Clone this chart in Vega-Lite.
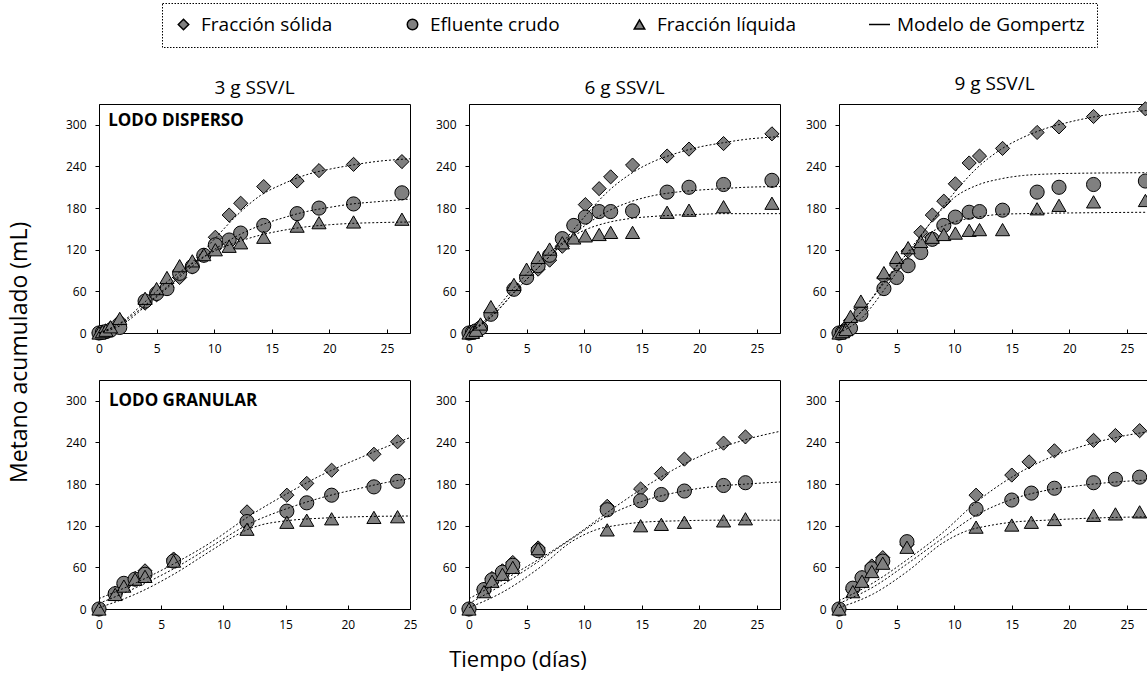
{
"$schema": "https://vega.github.io/schema/vega-lite/v6.json",
"padding": {"left": 8, "top": 2, "right": 0, "bottom": 0},
"title": {"text": "Tiempo (días)", "orient": "bottom", "anchor": "middle", "fontSize": 22, "offset": 19, "dx": -64},
"resolve": {"scale": {"shape": "shared"}, "legend": {"shape": "shared"}},
"datasets": {
"obs": [
{"panel":"D3","serie":"Fracción sólida","dia":0,"metano":0},{"panel":"D3","serie":"Fracción sólida","dia":0.3,"metano":1},{"panel":"D3","serie":"Fracción sólida","dia":0.6,"metano":3},{"panel":"D3","serie":"Fracción sólida","dia":1,"metano":7},{"panel":"D3","serie":"Fracción sólida","dia":1.8,"metano":17},{"panel":"D3","serie":"Fracción sólida","dia":4,"metano":43},{"panel":"D3","serie":"Fracción sólida","dia":5,"metano":55},{"panel":"D3","serie":"Fracción sólida","dia":5.9,"metano":66},{"panel":"D3","serie":"Fracción sólida","dia":7,"metano":80},{"panel":"D3","serie":"Fracción sólida","dia":8.1,"metano":95},{"panel":"D3","serie":"Fracción sólida","dia":9.1,"metano":112},{"panel":"D3","serie":"Fracción sólida","dia":10.1,"metano":138},{"panel":"D3","serie":"Fracción sólida","dia":11.3,"metano":170},{"panel":"D3","serie":"Fracción sólida","dia":12.3,"metano":187},{"panel":"D3","serie":"Fracción sólida","dia":14.3,"metano":211},{"panel":"D3","serie":"Fracción sólida","dia":17.2,"metano":219},{"panel":"D3","serie":"Fracción sólida","dia":19.1,"metano":234},{"panel":"D3","serie":"Fracción sólida","dia":22.1,"metano":243},{"panel":"D3","serie":"Fracción sólida","dia":26.3,"metano":247},
{"panel":"D3","serie":"Efluente crudo","dia":0,"metano":0},{"panel":"D3","serie":"Efluente crudo","dia":0.3,"metano":1},{"panel":"D3","serie":"Efluente crudo","dia":0.6,"metano":2},{"panel":"D3","serie":"Efluente crudo","dia":1,"metano":4},{"panel":"D3","serie":"Efluente crudo","dia":1.8,"metano":8},{"panel":"D3","serie":"Efluente crudo","dia":4,"metano":46},{"panel":"D3","serie":"Efluente crudo","dia":5,"metano":57},{"panel":"D3","serie":"Efluente crudo","dia":5.9,"metano":64},{"panel":"D3","serie":"Efluente crudo","dia":7,"metano":86},{"panel":"D3","serie":"Efluente crudo","dia":8.1,"metano":96},{"panel":"D3","serie":"Efluente crudo","dia":9.1,"metano":112},{"panel":"D3","serie":"Efluente crudo","dia":10.1,"metano":127},{"panel":"D3","serie":"Efluente crudo","dia":11.3,"metano":134},{"panel":"D3","serie":"Efluente crudo","dia":12.3,"metano":144},{"panel":"D3","serie":"Efluente crudo","dia":14.3,"metano":155},{"panel":"D3","serie":"Efluente crudo","dia":17.2,"metano":172},{"panel":"D3","serie":"Efluente crudo","dia":19.1,"metano":180},{"panel":"D3","serie":"Efluente crudo","dia":22.1,"metano":186},{"panel":"D3","serie":"Efluente crudo","dia":26.3,"metano":202},
{"panel":"D3","serie":"Fracción líquida","dia":0,"metano":0},{"panel":"D3","serie":"Fracción líquida","dia":0.3,"metano":2},{"panel":"D3","serie":"Fracción líquida","dia":0.6,"metano":4},{"panel":"D3","serie":"Fracción líquida","dia":1,"metano":9},{"panel":"D3","serie":"Fracción líquida","dia":1.8,"metano":21},{"panel":"D3","serie":"Fracción líquida","dia":4,"metano":50},{"panel":"D3","serie":"Fracción líquida","dia":5,"metano":64},{"panel":"D3","serie":"Fracción líquida","dia":5.9,"metano":80},{"panel":"D3","serie":"Fracción líquida","dia":7,"metano":97},{"panel":"D3","serie":"Fracción líquida","dia":8.1,"metano":104},{"panel":"D3","serie":"Fracción líquida","dia":9.1,"metano":113},{"panel":"D3","serie":"Fracción líquida","dia":10.1,"metano":120},{"panel":"D3","serie":"Fracción líquida","dia":11.3,"metano":125},{"panel":"D3","serie":"Fracción líquida","dia":12.3,"metano":130},{"panel":"D3","serie":"Fracción líquida","dia":14.3,"metano":138},{"panel":"D3","serie":"Fracción líquida","dia":17.2,"metano":154},{"panel":"D3","serie":"Fracción líquida","dia":19.1,"metano":159},{"panel":"D3","serie":"Fracción líquida","dia":22.1,"metano":160},{"panel":"D3","serie":"Fracción líquida","dia":26.3,"metano":164},
{"panel":"D6","serie":"Fracción sólida","dia":0,"metano":0},{"panel":"D6","serie":"Fracción sólida","dia":0.3,"metano":2},{"panel":"D6","serie":"Fracción sólida","dia":0.6,"metano":4},{"panel":"D6","serie":"Fracción sólida","dia":1,"metano":10},{"panel":"D6","serie":"Fracción sólida","dia":1.9,"metano":30},{"panel":"D6","serie":"Fracción sólida","dia":3.9,"metano":65},{"panel":"D6","serie":"Fracción sólida","dia":5,"metano":80},{"panel":"D6","serie":"Fracción sólida","dia":6,"metano":92},{"panel":"D6","serie":"Fracción sólida","dia":7,"metano":105},{"panel":"D6","serie":"Fracción sólida","dia":8.1,"metano":125},{"panel":"D6","serie":"Fracción sólida","dia":9.1,"metano":155},{"panel":"D6","serie":"Fracción sólida","dia":10.1,"metano":185},{"panel":"D6","serie":"Fracción sólida","dia":11.3,"metano":208},{"panel":"D6","serie":"Fracción sólida","dia":12.3,"metano":225},{"panel":"D6","serie":"Fracción sólida","dia":14.2,"metano":242},{"panel":"D6","serie":"Fracción sólida","dia":17.2,"metano":255},{"panel":"D6","serie":"Fracción sólida","dia":19.1,"metano":265},{"panel":"D6","serie":"Fracción sólida","dia":22.1,"metano":273},{"panel":"D6","serie":"Fracción sólida","dia":26.3,"metano":287},
{"panel":"D6","serie":"Efluente crudo","dia":0,"metano":0},{"panel":"D6","serie":"Efluente crudo","dia":0.3,"metano":1},{"panel":"D6","serie":"Efluente crudo","dia":0.6,"metano":3},{"panel":"D6","serie":"Efluente crudo","dia":1,"metano":7},{"panel":"D6","serie":"Efluente crudo","dia":1.9,"metano":27},{"panel":"D6","serie":"Efluente crudo","dia":3.9,"metano":63},{"panel":"D6","serie":"Efluente crudo","dia":5,"metano":80},{"panel":"D6","serie":"Efluente crudo","dia":6,"metano":97},{"panel":"D6","serie":"Efluente crudo","dia":7,"metano":112},{"panel":"D6","serie":"Efluente crudo","dia":8.1,"metano":136},{"panel":"D6","serie":"Efluente crudo","dia":9.1,"metano":155},{"panel":"D6","serie":"Efluente crudo","dia":10.1,"metano":167},{"panel":"D6","serie":"Efluente crudo","dia":11.3,"metano":175},{"panel":"D6","serie":"Efluente crudo","dia":12.3,"metano":175},{"panel":"D6","serie":"Efluente crudo","dia":14.2,"metano":176},{"panel":"D6","serie":"Efluente crudo","dia":17.2,"metano":203},{"panel":"D6","serie":"Efluente crudo","dia":19.1,"metano":210},{"panel":"D6","serie":"Efluente crudo","dia":22.1,"metano":214},{"panel":"D6","serie":"Efluente crudo","dia":26.3,"metano":220},
{"panel":"D6","serie":"Fracción líquida","dia":0,"metano":0},{"panel":"D6","serie":"Fracción líquida","dia":0.3,"metano":1},{"panel":"D6","serie":"Fracción líquida","dia":0.6,"metano":4},{"panel":"D6","serie":"Fracción líquida","dia":1,"metano":13},{"panel":"D6","serie":"Fracción líquida","dia":1.9,"metano":38},{"panel":"D6","serie":"Fracción líquida","dia":3.9,"metano":70},{"panel":"D6","serie":"Fracción líquida","dia":5,"metano":92},{"panel":"D6","serie":"Fracción líquida","dia":6,"metano":109},{"panel":"D6","serie":"Fracción líquida","dia":7,"metano":121},{"panel":"D6","serie":"Fracción líquida","dia":8.1,"metano":130},{"panel":"D6","serie":"Fracción líquida","dia":9.1,"metano":137},{"panel":"D6","serie":"Fracción líquida","dia":10.1,"metano":140},{"panel":"D6","serie":"Fracción líquida","dia":11.3,"metano":142},{"panel":"D6","serie":"Fracción líquida","dia":12.3,"metano":145},{"panel":"D6","serie":"Fracción líquida","dia":14.2,"metano":145},{"panel":"D6","serie":"Fracción líquida","dia":17.2,"metano":174},{"panel":"D6","serie":"Fracción líquida","dia":19.1,"metano":177},{"panel":"D6","serie":"Fracción líquida","dia":22.1,"metano":182},{"panel":"D6","serie":"Fracción líquida","dia":26.3,"metano":187},
{"panel":"D9","serie":"Fracción sólida","dia":0,"metano":0},{"panel":"D9","serie":"Fracción sólida","dia":0.3,"metano":3},{"panel":"D9","serie":"Fracción sólida","dia":0.6,"metano":8},{"panel":"D9","serie":"Fracción sólida","dia":1,"metano":18},{"panel":"D9","serie":"Fracción sólida","dia":1.9,"metano":35},{"panel":"D9","serie":"Fracción sólida","dia":3.9,"metano":80},{"panel":"D9","serie":"Fracción sólida","dia":5,"metano":98},{"panel":"D9","serie":"Fracción sólida","dia":6,"metano":118},{"panel":"D9","serie":"Fracción sólida","dia":7.1,"metano":145},{"panel":"D9","serie":"Fracción sólida","dia":8.1,"metano":170},{"panel":"D9","serie":"Fracción sólida","dia":9.1,"metano":190},{"panel":"D9","serie":"Fracción sólida","dia":10.1,"metano":215},{"panel":"D9","serie":"Fracción sólida","dia":11.3,"metano":245},{"panel":"D9","serie":"Fracción sólida","dia":12.2,"metano":255},{"panel":"D9","serie":"Fracción sólida","dia":14.2,"metano":266},{"panel":"D9","serie":"Fracción sólida","dia":17.2,"metano":289},{"panel":"D9","serie":"Fracción sólida","dia":19.1,"metano":297},{"panel":"D9","serie":"Fracción sólida","dia":22.1,"metano":312},{"panel":"D9","serie":"Fracción sólida","dia":26.6,"metano":323},
{"panel":"D9","serie":"Efluente crudo","dia":0,"metano":0},{"panel":"D9","serie":"Efluente crudo","dia":0.3,"metano":1},{"panel":"D9","serie":"Efluente crudo","dia":0.6,"metano":3},{"panel":"D9","serie":"Efluente crudo","dia":1,"metano":7},{"panel":"D9","serie":"Efluente crudo","dia":1.9,"metano":27},{"panel":"D9","serie":"Efluente crudo","dia":3.9,"metano":64},{"panel":"D9","serie":"Efluente crudo","dia":5,"metano":80},{"panel":"D9","serie":"Efluente crudo","dia":6,"metano":97},{"panel":"D9","serie":"Efluente crudo","dia":7.1,"metano":116},{"panel":"D9","serie":"Efluente crudo","dia":8.1,"metano":135},{"panel":"D9","serie":"Efluente crudo","dia":9.1,"metano":155},{"panel":"D9","serie":"Efluente crudo","dia":10.1,"metano":167},{"panel":"D9","serie":"Efluente crudo","dia":11.3,"metano":174},{"panel":"D9","serie":"Efluente crudo","dia":12.2,"metano":175},{"panel":"D9","serie":"Efluente crudo","dia":14.2,"metano":177},{"panel":"D9","serie":"Efluente crudo","dia":17.2,"metano":203},{"panel":"D9","serie":"Efluente crudo","dia":19.1,"metano":210},{"panel":"D9","serie":"Efluente crudo","dia":22.1,"metano":214},{"panel":"D9","serie":"Efluente crudo","dia":26.6,"metano":219},
{"panel":"D9","serie":"Fracción líquida","dia":0,"metano":0},{"panel":"D9","serie":"Fracción líquida","dia":0.3,"metano":2},{"panel":"D9","serie":"Fracción líquida","dia":0.6,"metano":5},{"panel":"D9","serie":"Fracción líquida","dia":1,"metano":24},{"panel":"D9","serie":"Fracción líquida","dia":1.9,"metano":46},{"panel":"D9","serie":"Fracción líquida","dia":3.9,"metano":87},{"panel":"D9","serie":"Fracción líquida","dia":5,"metano":109},{"panel":"D9","serie":"Fracción líquida","dia":6,"metano":123},{"panel":"D9","serie":"Fracción líquida","dia":7.1,"metano":132},{"panel":"D9","serie":"Fracción líquida","dia":8.1,"metano":138},{"panel":"D9","serie":"Fracción líquida","dia":9.1,"metano":142},{"panel":"D9","serie":"Fracción líquida","dia":10.1,"metano":144},{"panel":"D9","serie":"Fracción líquida","dia":11.3,"metano":148},{"panel":"D9","serie":"Fracción líquida","dia":12.2,"metano":149},{"panel":"D9","serie":"Fracción líquida","dia":14.2,"metano":149},{"panel":"D9","serie":"Fracción líquida","dia":17.2,"metano":179},{"panel":"D9","serie":"Fracción líquida","dia":19.1,"metano":184},{"panel":"D9","serie":"Fracción líquida","dia":22.1,"metano":189},{"panel":"D9","serie":"Fracción líquida","dia":26.6,"metano":191},
{"panel":"G3","serie":"Fracción sólida","dia":0,"metano":0},{"panel":"G3","serie":"Fracción sólida","dia":1.3,"metano":23},{"panel":"G3","serie":"Fracción sólida","dia":2,"metano":35},{"panel":"G3","serie":"Fracción sólida","dia":2.9,"metano":44},{"panel":"G3","serie":"Fracción sólida","dia":3.7,"metano":55},{"panel":"G3","serie":"Fracción sólida","dia":6,"metano":72},{"panel":"G3","serie":"Fracción sólida","dia":11.9,"metano":140},{"panel":"G3","serie":"Fracción sólida","dia":15.1,"metano":164},{"panel":"G3","serie":"Fracción sólida","dia":16.7,"metano":181},{"panel":"G3","serie":"Fracción sólida","dia":18.7,"metano":200},{"panel":"G3","serie":"Fracción sólida","dia":22.1,"metano":223},{"panel":"G3","serie":"Fracción sólida","dia":24,"metano":241},
{"panel":"G3","serie":"Efluente crudo","dia":0,"metano":0},{"panel":"G3","serie":"Efluente crudo","dia":1.3,"metano":22},{"panel":"G3","serie":"Efluente crudo","dia":2,"metano":37},{"panel":"G3","serie":"Efluente crudo","dia":2.9,"metano":43},{"panel":"G3","serie":"Efluente crudo","dia":3.7,"metano":50},{"panel":"G3","serie":"Efluente crudo","dia":6,"metano":69},{"panel":"G3","serie":"Efluente crudo","dia":11.9,"metano":126},{"panel":"G3","serie":"Efluente crudo","dia":15.1,"metano":141},{"panel":"G3","serie":"Efluente crudo","dia":16.7,"metano":153},{"panel":"G3","serie":"Efluente crudo","dia":18.7,"metano":164},{"panel":"G3","serie":"Efluente crudo","dia":22.1,"metano":176},{"panel":"G3","serie":"Efluente crudo","dia":24,"metano":184},
{"panel":"G3","serie":"Fracción líquida","dia":0,"metano":0},{"panel":"G3","serie":"Fracción líquida","dia":1.3,"metano":21},{"panel":"G3","serie":"Fracción líquida","dia":2,"metano":33},{"panel":"G3","serie":"Fracción líquida","dia":2.9,"metano":43},{"panel":"G3","serie":"Fracción líquida","dia":3.7,"metano":47},{"panel":"G3","serie":"Fracción líquida","dia":6,"metano":69},{"panel":"G3","serie":"Fracción líquida","dia":11.9,"metano":115},{"panel":"G3","serie":"Fracción líquida","dia":15.1,"metano":125},{"panel":"G3","serie":"Fracción líquida","dia":16.7,"metano":128},{"panel":"G3","serie":"Fracción líquida","dia":18.7,"metano":130},{"panel":"G3","serie":"Fracción líquida","dia":22.1,"metano":132},{"panel":"G3","serie":"Fracción líquida","dia":24,"metano":133},
{"panel":"G6","serie":"Fracción sólida","dia":0,"metano":0},{"panel":"G6","serie":"Fracción sólida","dia":1.3,"metano":28},{"panel":"G6","serie":"Fracción sólida","dia":2,"metano":44},{"panel":"G6","serie":"Fracción sólida","dia":2.9,"metano":55},{"panel":"G6","serie":"Fracción sólida","dia":3.8,"metano":67},{"panel":"G6","serie":"Fracción sólida","dia":6,"metano":88},{"panel":"G6","serie":"Fracción sólida","dia":12,"metano":148},{"panel":"G6","serie":"Fracción sólida","dia":14.9,"metano":173},{"panel":"G6","serie":"Fracción sólida","dia":16.7,"metano":195},{"panel":"G6","serie":"Fracción sólida","dia":18.7,"metano":216},{"panel":"G6","serie":"Fracción sólida","dia":22.1,"metano":239},{"panel":"G6","serie":"Fracción sólida","dia":24,"metano":248},
{"panel":"G6","serie":"Efluente crudo","dia":0,"metano":0},{"panel":"G6","serie":"Efluente crudo","dia":1.3,"metano":28},{"panel":"G6","serie":"Efluente crudo","dia":2,"metano":42},{"panel":"G6","serie":"Efluente crudo","dia":2.9,"metano":53},{"panel":"G6","serie":"Efluente crudo","dia":3.8,"metano":63},{"panel":"G6","serie":"Efluente crudo","dia":6,"metano":84},{"panel":"G6","serie":"Efluente crudo","dia":12,"metano":143},{"panel":"G6","serie":"Efluente crudo","dia":14.9,"metano":156},{"panel":"G6","serie":"Efluente crudo","dia":16.7,"metano":165},{"panel":"G6","serie":"Efluente crudo","dia":18.7,"metano":170},{"panel":"G6","serie":"Efluente crudo","dia":22.1,"metano":178},{"panel":"G6","serie":"Efluente crudo","dia":24,"metano":182},
{"panel":"G6","serie":"Fracción líquida","dia":0,"metano":0},{"panel":"G6","serie":"Fracción líquida","dia":1.3,"metano":25},{"panel":"G6","serie":"Fracción líquida","dia":2,"metano":40},{"panel":"G6","serie":"Fracción líquida","dia":2.9,"metano":50},{"panel":"G6","serie":"Fracción líquida","dia":3.8,"metano":60},{"panel":"G6","serie":"Fracción líquida","dia":6,"metano":87},{"panel":"G6","serie":"Fracción líquida","dia":12,"metano":114},{"panel":"G6","serie":"Fracción líquida","dia":14.9,"metano":120},{"panel":"G6","serie":"Fracción líquida","dia":16.7,"metano":122},{"panel":"G6","serie":"Fracción líquida","dia":18.7,"metano":125},{"panel":"G6","serie":"Fracción líquida","dia":22.1,"metano":127},{"panel":"G6","serie":"Fracción líquida","dia":24,"metano":130},
{"panel":"G9","serie":"Fracción sólida","dia":0,"metano":0},{"panel":"G9","serie":"Fracción sólida","dia":1.2,"metano":28},{"panel":"G9","serie":"Fracción sólida","dia":2,"metano":45},{"panel":"G9","serie":"Fracción sólida","dia":2.85,"metano":62},{"panel":"G9","serie":"Fracción sólida","dia":3.8,"metano":74},{"panel":"G9","serie":"Fracción sólida","dia":5.9,"metano":93},{"panel":"G9","serie":"Fracción sólida","dia":11.9,"metano":164},{"panel":"G9","serie":"Fracción sólida","dia":15,"metano":193},{"panel":"G9","serie":"Fracción sólida","dia":16.5,"metano":212},{"panel":"G9","serie":"Fracción sólida","dia":18.7,"metano":228},{"panel":"G9","serie":"Fracción sólida","dia":22.1,"metano":243},{"panel":"G9","serie":"Fracción sólida","dia":24,"metano":250},{"panel":"G9","serie":"Fracción sólida","dia":26.1,"metano":257},
{"panel":"G9","serie":"Efluente crudo","dia":0,"metano":0},{"panel":"G9","serie":"Efluente crudo","dia":1.2,"metano":30},{"panel":"G9","serie":"Efluente crudo","dia":2,"metano":45},{"panel":"G9","serie":"Efluente crudo","dia":2.85,"metano":58},{"panel":"G9","serie":"Efluente crudo","dia":3.8,"metano":69},{"panel":"G9","serie":"Efluente crudo","dia":5.9,"metano":97},{"panel":"G9","serie":"Efluente crudo","dia":11.9,"metano":144},{"panel":"G9","serie":"Efluente crudo","dia":15,"metano":157},{"panel":"G9","serie":"Efluente crudo","dia":16.7,"metano":167},{"panel":"G9","serie":"Efluente crudo","dia":18.7,"metano":174},{"panel":"G9","serie":"Efluente crudo","dia":22.1,"metano":182},{"panel":"G9","serie":"Efluente crudo","dia":24,"metano":187},{"panel":"G9","serie":"Efluente crudo","dia":26.1,"metano":190},
{"panel":"G9","serie":"Fracción líquida","dia":0,"metano":0},{"panel":"G9","serie":"Fracción líquida","dia":1.2,"metano":25},{"panel":"G9","serie":"Fracción líquida","dia":2,"metano":40},{"panel":"G9","serie":"Fracción líquida","dia":2.85,"metano":54},{"panel":"G9","serie":"Fracción líquida","dia":3.8,"metano":66},{"panel":"G9","serie":"Fracción líquida","dia":5.9,"metano":89},{"panel":"G9","serie":"Fracción líquida","dia":11.9,"metano":118},{"panel":"G9","serie":"Fracción líquida","dia":15,"metano":121},{"panel":"G9","serie":"Fracción líquida","dia":16.7,"metano":125},{"panel":"G9","serie":"Fracción líquida","dia":18.7,"metano":129},{"panel":"G9","serie":"Fracción líquida","dia":22.1,"metano":135},{"panel":"G9","serie":"Fracción líquida","dia":24,"metano":137},{"panel":"G9","serie":"Fracción líquida","dia":26.1,"metano":140}
],
"modelo": [
{"panel":"D3","serie":"Fracción sólida","dia":0,"metano":0},{"panel":"D3","serie":"Fracción sólida","dia":2,"metano":15},{"panel":"D3","serie":"Fracción sólida","dia":4,"metano":40},{"panel":"D3","serie":"Fracción sólida","dia":6,"metano":68},{"panel":"D3","serie":"Fracción sólida","dia":8,"metano":100},{"panel":"D3","serie":"Fracción sólida","dia":10,"metano":135},{"panel":"D3","serie":"Fracción sólida","dia":12,"metano":170},{"panel":"D3","serie":"Fracción sólida","dia":14,"metano":198},{"panel":"D3","serie":"Fracción sólida","dia":16,"metano":215},{"panel":"D3","serie":"Fracción sólida","dia":18,"metano":228},{"panel":"D3","serie":"Fracción sólida","dia":20,"metano":236},{"panel":"D3","serie":"Fracción sólida","dia":22,"metano":242},{"panel":"D3","serie":"Fracción sólida","dia":24,"metano":247},{"panel":"D3","serie":"Fracción sólida","dia":27,"metano":251},
{"panel":"D3","serie":"Efluente crudo","dia":0,"metano":0},{"panel":"D3","serie":"Efluente crudo","dia":2,"metano":12},{"panel":"D3","serie":"Efluente crudo","dia":4,"metano":38},{"panel":"D3","serie":"Efluente crudo","dia":6,"metano":66},{"panel":"D3","serie":"Efluente crudo","dia":8,"metano":95},{"panel":"D3","serie":"Efluente crudo","dia":10,"metano":120},{"panel":"D3","serie":"Efluente crudo","dia":12,"metano":140},{"panel":"D3","serie":"Efluente crudo","dia":14,"metano":155},{"panel":"D3","serie":"Efluente crudo","dia":16,"metano":166},{"panel":"D3","serie":"Efluente crudo","dia":18,"metano":175},{"panel":"D3","serie":"Efluente crudo","dia":20,"metano":181},{"panel":"D3","serie":"Efluente crudo","dia":22,"metano":186},{"panel":"D3","serie":"Efluente crudo","dia":24,"metano":189},{"panel":"D3","serie":"Efluente crudo","dia":27,"metano":193},
{"panel":"D3","serie":"Fracción líquida","dia":0,"metano":0},{"panel":"D3","serie":"Fracción líquida","dia":2,"metano":16},{"panel":"D3","serie":"Fracción líquida","dia":4,"metano":45},{"panel":"D3","serie":"Fracción líquida","dia":6,"metano":75},{"panel":"D3","serie":"Fracción líquida","dia":8,"metano":99},{"panel":"D3","serie":"Fracción líquida","dia":10,"metano":118},{"panel":"D3","serie":"Fracción líquida","dia":12,"metano":131},{"panel":"D3","serie":"Fracción líquida","dia":14,"metano":141},{"panel":"D3","serie":"Fracción líquida","dia":16,"metano":148},{"panel":"D3","serie":"Fracción líquida","dia":18,"metano":153},{"panel":"D3","serie":"Fracción líquida","dia":20,"metano":156},{"panel":"D3","serie":"Fracción líquida","dia":22,"metano":158},{"panel":"D3","serie":"Fracción líquida","dia":24,"metano":159},{"panel":"D3","serie":"Fracción líquida","dia":27,"metano":160},
{"panel":"D6","serie":"Fracción sólida","dia":0,"metano":0},{"panel":"D6","serie":"Fracción sólida","dia":2,"metano":25},{"panel":"D6","serie":"Fracción sólida","dia":4,"metano":60},{"panel":"D6","serie":"Fracción sólida","dia":6,"metano":94},{"panel":"D6","serie":"Fracción sólida","dia":8,"metano":128},{"panel":"D6","serie":"Fracción sólida","dia":10,"metano":167},{"panel":"D6","serie":"Fracción sólida","dia":12,"metano":203},{"panel":"D6","serie":"Fracción sólida","dia":14,"metano":229},{"panel":"D6","serie":"Fracción sólida","dia":16,"metano":247},{"panel":"D6","serie":"Fracción sólida","dia":18,"metano":259},{"panel":"D6","serie":"Fracción sólida","dia":20,"metano":268},{"panel":"D6","serie":"Fracción sólida","dia":22,"metano":274},{"panel":"D6","serie":"Fracción sólida","dia":24,"metano":279},{"panel":"D6","serie":"Fracción sólida","dia":27,"metano":283},
{"panel":"D6","serie":"Efluente crudo","dia":0,"metano":0},{"panel":"D6","serie":"Efluente crudo","dia":2,"metano":24},{"panel":"D6","serie":"Efluente crudo","dia":4,"metano":60},{"panel":"D6","serie":"Efluente crudo","dia":6,"metano":94},{"panel":"D6","serie":"Efluente crudo","dia":8,"metano":126},{"panel":"D6","serie":"Efluente crudo","dia":10,"metano":154},{"panel":"D6","serie":"Efluente crudo","dia":12,"metano":175},{"panel":"D6","serie":"Efluente crudo","dia":14,"metano":189},{"panel":"D6","serie":"Efluente crudo","dia":16,"metano":198},{"panel":"D6","serie":"Efluente crudo","dia":18,"metano":203},{"panel":"D6","serie":"Efluente crudo","dia":20,"metano":206},{"panel":"D6","serie":"Efluente crudo","dia":22,"metano":208},{"panel":"D6","serie":"Efluente crudo","dia":24,"metano":210},{"panel":"D6","serie":"Efluente crudo","dia":27,"metano":211},
{"panel":"D6","serie":"Fracción líquida","dia":0,"metano":0},{"panel":"D6","serie":"Fracción líquida","dia":2,"metano":28},{"panel":"D6","serie":"Fracción líquida","dia":4,"metano":67},{"panel":"D6","serie":"Fracción líquida","dia":6,"metano":102},{"panel":"D6","serie":"Fracción líquida","dia":8,"metano":129},{"panel":"D6","serie":"Fracción líquida","dia":10,"metano":148},{"panel":"D6","serie":"Fracción líquida","dia":12,"metano":159},{"panel":"D6","serie":"Fracción líquida","dia":14,"metano":165},{"panel":"D6","serie":"Fracción líquida","dia":16,"metano":168},{"panel":"D6","serie":"Fracción líquida","dia":18,"metano":170},{"panel":"D6","serie":"Fracción líquida","dia":20,"metano":171},{"panel":"D6","serie":"Fracción líquida","dia":22,"metano":172},{"panel":"D6","serie":"Fracción líquida","dia":27,"metano":172},
{"panel":"D9","serie":"Fracción sólida","dia":0,"metano":0},{"panel":"D9","serie":"Fracción sólida","dia":2,"metano":32},{"panel":"D9","serie":"Fracción sólida","dia":4,"metano":74},{"panel":"D9","serie":"Fracción sólida","dia":6,"metano":117},{"panel":"D9","serie":"Fracción sólida","dia":8,"metano":160},{"panel":"D9","serie":"Fracción sólida","dia":10,"metano":202},{"panel":"D9","serie":"Fracción sólida","dia":12,"metano":238},{"panel":"D9","serie":"Fracción sólida","dia":14,"metano":264},{"panel":"D9","serie":"Fracción sólida","dia":16,"metano":282},{"panel":"D9","serie":"Fracción sólida","dia":18,"metano":295},{"panel":"D9","serie":"Fracción sólida","dia":20,"metano":304},{"panel":"D9","serie":"Fracción sólida","dia":22,"metano":311},{"panel":"D9","serie":"Fracción sólida","dia":24,"metano":316},{"panel":"D9","serie":"Fracción sólida","dia":27,"metano":321},
{"panel":"D9","serie":"Efluente crudo","dia":0,"metano":0},{"panel":"D9","serie":"Efluente crudo","dia":2,"metano":22},{"panel":"D9","serie":"Efluente crudo","dia":4,"metano":64},{"panel":"D9","serie":"Efluente crudo","dia":6,"metano":112},{"panel":"D9","serie":"Efluente crudo","dia":8,"metano":160},{"panel":"D9","serie":"Efluente crudo","dia":10,"metano":195},{"panel":"D9","serie":"Efluente crudo","dia":12,"metano":213},{"panel":"D9","serie":"Efluente crudo","dia":14,"metano":222},{"panel":"D9","serie":"Efluente crudo","dia":16,"metano":227},{"panel":"D9","serie":"Efluente crudo","dia":18,"metano":229},{"panel":"D9","serie":"Efluente crudo","dia":20,"metano":230},{"panel":"D9","serie":"Efluente crudo","dia":27,"metano":231},
{"panel":"D9","serie":"Fracción líquida","dia":0,"metano":0},{"panel":"D9","serie":"Fracción líquida","dia":2,"metano":32},{"panel":"D9","serie":"Fracción líquida","dia":4,"metano":76},{"panel":"D9","serie":"Fracción líquida","dia":6,"metano":116},{"panel":"D9","serie":"Fracción líquida","dia":8,"metano":145},{"panel":"D9","serie":"Fracción líquida","dia":10,"metano":160},{"panel":"D9","serie":"Fracción líquida","dia":12,"metano":167},{"panel":"D9","serie":"Fracción líquida","dia":14,"metano":171},{"panel":"D9","serie":"Fracción líquida","dia":16,"metano":172},{"panel":"D9","serie":"Fracción líquida","dia":20,"metano":173},{"panel":"D9","serie":"Fracción líquida","dia":27,"metano":174},
{"panel":"G3","serie":"Fracción sólida","dia":0,"metano":15},{"panel":"G3","serie":"Fracción sólida","dia":3,"metano":38},{"panel":"G3","serie":"Fracción sólida","dia":6,"metano":65},{"panel":"G3","serie":"Fracción sólida","dia":9,"metano":96},{"panel":"G3","serie":"Fracción sólida","dia":12,"metano":133},{"panel":"G3","serie":"Fracción sólida","dia":15,"metano":165},{"panel":"G3","serie":"Fracción sólida","dia":18,"metano":194},{"panel":"G3","serie":"Fracción sólida","dia":21,"metano":218},{"panel":"G3","serie":"Fracción sólida","dia":23,"metano":233},{"panel":"G3","serie":"Fracción sólida","dia":25,"metano":247},
{"panel":"G3","serie":"Efluente crudo","dia":0,"metano":8},{"panel":"G3","serie":"Efluente crudo","dia":3,"metano":31},{"panel":"G3","serie":"Efluente crudo","dia":6,"metano":58},{"panel":"G3","serie":"Efluente crudo","dia":9,"metano":90},{"panel":"G3","serie":"Efluente crudo","dia":12,"metano":122},{"panel":"G3","serie":"Efluente crudo","dia":15,"metano":144},{"panel":"G3","serie":"Efluente crudo","dia":18,"metano":161},{"panel":"G3","serie":"Efluente crudo","dia":21,"metano":174},{"panel":"G3","serie":"Efluente crudo","dia":23,"metano":182},{"panel":"G3","serie":"Efluente crudo","dia":25,"metano":188},
{"panel":"G3","serie":"Fracción líquida","dia":0,"metano":2},{"panel":"G3","serie":"Fracción líquida","dia":3,"metano":22},{"panel":"G3","serie":"Fracción líquida","dia":6,"metano":50},{"panel":"G3","serie":"Fracción líquida","dia":9,"metano":84},{"panel":"G3","serie":"Fracción líquida","dia":11,"metano":106},{"panel":"G3","serie":"Fracción líquida","dia":12,"metano":115},{"panel":"G3","serie":"Fracción líquida","dia":13,"metano":121},{"panel":"G3","serie":"Fracción líquida","dia":15,"metano":127},{"panel":"G3","serie":"Fracción líquida","dia":18,"metano":131},{"panel":"G3","serie":"Fracción líquida","dia":21,"metano":133},{"panel":"G3","serie":"Fracción líquida","dia":25,"metano":134},
{"panel":"G6","serie":"Fracción sólida","dia":0,"metano":15},{"panel":"G6","serie":"Fracción sólida","dia":3,"metano":42},{"panel":"G6","serie":"Fracción sólida","dia":6,"metano":71},{"panel":"G6","serie":"Fracción sólida","dia":9,"metano":103},{"panel":"G6","serie":"Fracción sólida","dia":12,"metano":139},{"panel":"G6","serie":"Fracción sólida","dia":15,"metano":173},{"panel":"G6","serie":"Fracción sólida","dia":18,"metano":203},{"panel":"G6","serie":"Fracción sólida","dia":21,"metano":227},{"panel":"G6","serie":"Fracción sólida","dia":24,"metano":244},{"panel":"G6","serie":"Fracción sólida","dia":27,"metano":256},
{"panel":"G6","serie":"Efluente crudo","dia":0,"metano":8},{"panel":"G6","serie":"Efluente crudo","dia":3,"metano":36},{"panel":"G6","serie":"Efluente crudo","dia":6,"metano":68},{"panel":"G6","serie":"Efluente crudo","dia":9,"metano":102},{"panel":"G6","serie":"Efluente crudo","dia":12,"metano":134},{"panel":"G6","serie":"Efluente crudo","dia":15,"metano":155},{"panel":"G6","serie":"Efluente crudo","dia":18,"metano":168},{"panel":"G6","serie":"Efluente crudo","dia":21,"metano":176},{"panel":"G6","serie":"Efluente crudo","dia":24,"metano":180},{"panel":"G6","serie":"Efluente crudo","dia":27,"metano":183},
{"panel":"G6","serie":"Fracción líquida","dia":0,"metano":2},{"panel":"G6","serie":"Fracción líquida","dia":3,"metano":25},{"panel":"G6","serie":"Fracción líquida","dia":6,"metano":58},{"panel":"G6","serie":"Fracción líquida","dia":9,"metano":98},{"panel":"G6","serie":"Fracción líquida","dia":11,"metano":114},{"panel":"G6","serie":"Fracción líquida","dia":13,"metano":121},{"panel":"G6","serie":"Fracción líquida","dia":15,"metano":125},{"panel":"G6","serie":"Fracción líquida","dia":18,"metano":127},{"panel":"G6","serie":"Fracción líquida","dia":22,"metano":128},{"panel":"G6","serie":"Fracción líquida","dia":27,"metano":128},
{"panel":"G9","serie":"Fracción sólida","dia":0,"metano":12},{"panel":"G9","serie":"Fracción sólida","dia":3,"metano":38},{"panel":"G9","serie":"Fracción sólida","dia":6,"metano":72},{"panel":"G9","serie":"Fracción sólida","dia":9,"metano":110},{"panel":"G9","serie":"Fracción sólida","dia":12,"metano":155},{"panel":"G9","serie":"Fracción sólida","dia":15,"metano":190},{"panel":"G9","serie":"Fracción sólida","dia":18,"metano":216},{"panel":"G9","serie":"Fracción sólida","dia":21,"metano":234},{"panel":"G9","serie":"Fracción sólida","dia":24,"metano":247},{"panel":"G9","serie":"Fracción sólida","dia":27,"metano":256},
{"panel":"G9","serie":"Efluente crudo","dia":0,"metano":8},{"panel":"G9","serie":"Efluente crudo","dia":3,"metano":32},{"panel":"G9","serie":"Efluente crudo","dia":6,"metano":66},{"panel":"G9","serie":"Efluente crudo","dia":9,"metano":102},{"panel":"G9","serie":"Efluente crudo","dia":12,"metano":136},{"panel":"G9","serie":"Efluente crudo","dia":15,"metano":158},{"panel":"G9","serie":"Efluente crudo","dia":18,"metano":171},{"panel":"G9","serie":"Efluente crudo","dia":21,"metano":178},{"panel":"G9","serie":"Efluente crudo","dia":24,"metano":183},{"panel":"G9","serie":"Efluente crudo","dia":27,"metano":186},
{"panel":"G9","serie":"Fracción líquida","dia":0,"metano":2},{"panel":"G9","serie":"Fracción líquida","dia":3,"metano":22},{"panel":"G9","serie":"Fracción líquida","dia":6,"metano":55},{"panel":"G9","serie":"Fracción líquida","dia":9,"metano":95},{"panel":"G9","serie":"Fracción líquida","dia":11,"metano":112},{"panel":"G9","serie":"Fracción líquida","dia":13,"metano":120},{"panel":"G9","serie":"Fracción líquida","dia":15,"metano":125},{"panel":"G9","serie":"Fracción líquida","dia":18,"metano":128},{"panel":"G9","serie":"Fracción líquida","dia":22,"metano":131},{"panel":"G9","serie":"Fracción líquida","dia":27,"metano":133}
]
},
"vconcat": [
{"columns": 3, "bounds": "flush", "spacing": {"row": 47, "column": 59},
 "title": {"text": "Metano acumulado (mL)", "orient": "left", "anchor": "middle", "fontSize": 23, "offset": 33},
 "resolve": {"scale": {"shape": "shared"}, "legend": {"shape": "shared"}},
 "concat": [
 {"width": 311, "height": 229, "title": {"text": "3 g SSV/L", "offset": 6},
  "layer": [
   {"data": {"name": "obs"}, "transform": [{"filter": "datum.panel === 'D3'"}], "mark": {"type": "point", "filled": true, "fill": "#808080", "stroke": "#000000", "strokeWidth": 1, "opacity": 1, "size": 200},
    "encoding": {"x": {"field": "dia", "type": "quantitative", "scale": {"domain": [0, 27], "nice": false}, "axis": {"values": [0,5,10,15,20,25], "title": null}}, "y": {"field": "metano", "type": "quantitative", "scale": {"domain": [0, 330], "nice": false}, "axis": {"values": [0,60,120,180,240,300], "title": null}},
     "shape": {"field": "serie", "type": "nominal", "scale": {"domain": ["Fracción sólida","Efluente crudo","Fracción líquida","Modelo de Gompertz"], "range": ["diamond","circle","triangle-up","M-2,0H2"]},
      "legend": {"title": null, "orient": "none", "legendX": 63, "legendY": -101, "direction": "horizontal", "columns": 4, "columnPadding": 70, "gridAlign": "none", "symbolSize": 110, "labelFont": "Open Sans", "labelFontSize": 19, "labelColor": "#000000", "labelOffset": 8, "labelLimit": 300, "padding": 12, "strokeColor": "#000000",
       "encode": {"symbols": {"stroke": {"value": "#000000"}, "strokeWidth": {"value": 1}, "fill": {"value": {"expr": "datum.value === 'Modelo de Gompertz' ? 'transparent' : '#808080'"}}, "strokeDash": {"value": {"expr": "datum.value === 'Modelo de Gompertz' ? [1.5, 1.5] : [1, 0]"}}}}}}}},
   {"data": {"name": "modelo"}, "transform": [{"filter": "datum.panel === 'D3'"}], "mark": {"type": "line", "color": "#000000", "strokeWidth": 1, "strokeDash": [2, 2], "interpolate": "monotone"},
    "encoding": {"x": {"field": "dia", "type": "quantitative"}, "y": {"field": "metano", "type": "quantitative"}, "detail": {"field": "serie", "type": "nominal"}}},
   {"data": {"values": [{"etiqueta": "LODO DISPERSO"}]}, "mark": {"type": "text", "align": "left", "baseline": "middle", "fontWeight": "bold", "fontSize": 17, "font": "Open Sans", "color": "#000000"},
    "encoding": {"x": {"datum": 0.8, "type": "quantitative"}, "y": {"datum": 305, "type": "quantitative"}, "text": {"field": "etiqueta"}}}
  ]},
 {"width": 311, "height": 229, "title": {"text": "6 g SSV/L", "offset": 6},
  "layer": [
   {"data": {"name": "obs"}, "transform": [{"filter": "datum.panel === 'D6'"}], "mark": {"type": "point", "filled": true, "fill": "#808080", "stroke": "#000000", "strokeWidth": 1, "opacity": 1, "size": 200},
    "encoding": {"x": {"field": "dia", "type": "quantitative", "scale": {"domain": [0, 27], "nice": false}, "axis": {"values": [0,5,10,15,20,25], "title": null}}, "y": {"field": "metano", "type": "quantitative", "scale": {"domain": [0, 330], "nice": false}, "axis": {"values": [0,60,120,180,240,300], "title": null}},
     "shape": {"field": "serie", "type": "nominal", "scale": {"domain": ["Fracción sólida","Efluente crudo","Fracción líquida","Modelo de Gompertz"], "range": ["diamond","circle","triangle-up","M-2,0H2"]},
      "legend": {"title": null, "orient": "none", "legendX": 63, "legendY": -101, "direction": "horizontal", "columns": 4, "columnPadding": 70, "gridAlign": "none", "symbolSize": 110, "labelFont": "Open Sans", "labelFontSize": 19, "labelColor": "#000000", "labelOffset": 8, "labelLimit": 300, "padding": 12, "strokeColor": "#000000",
       "encode": {"symbols": {"stroke": {"value": "#000000"}, "strokeWidth": {"value": 1}, "fill": {"value": {"expr": "datum.value === 'Modelo de Gompertz' ? 'transparent' : '#808080'"}}, "strokeDash": {"value": {"expr": "datum.value === 'Modelo de Gompertz' ? [1.5, 1.5] : [1, 0]"}}}}}}}},
   {"data": {"name": "modelo"}, "transform": [{"filter": "datum.panel === 'D6'"}], "mark": {"type": "line", "color": "#000000", "strokeWidth": 1, "strokeDash": [2, 2], "interpolate": "monotone"},
    "encoding": {"x": {"field": "dia", "type": "quantitative"}, "y": {"field": "metano", "type": "quantitative"}, "detail": {"field": "serie", "type": "nominal"}}}
  ]},
 {"width": 311, "height": 229, "title": {"text": "9 g SSV/L", "offset": 6},
  "layer": [
   {"data": {"name": "obs"}, "transform": [{"filter": "datum.panel === 'D9'"}], "mark": {"type": "point", "filled": true, "fill": "#808080", "stroke": "#000000", "strokeWidth": 1, "opacity": 1, "size": 200},
    "encoding": {"x": {"field": "dia", "type": "quantitative", "scale": {"domain": [0, 27], "nice": false}, "axis": {"values": [0,5,10,15,20,25], "title": null}}, "y": {"field": "metano", "type": "quantitative", "scale": {"domain": [0, 330], "nice": false}, "axis": {"values": [0,60,120,180,240,300], "title": null}},
     "shape": {"field": "serie", "type": "nominal", "scale": {"domain": ["Fracción sólida","Efluente crudo","Fracción líquida","Modelo de Gompertz"], "range": ["diamond","circle","triangle-up","M-2,0H2"]},
      "legend": {"title": null, "orient": "none", "legendX": 63, "legendY": -101, "direction": "horizontal", "columns": 4, "columnPadding": 70, "gridAlign": "none", "symbolSize": 110, "labelFont": "Open Sans", "labelFontSize": 19, "labelColor": "#000000", "labelOffset": 8, "labelLimit": 300, "padding": 12, "strokeColor": "#000000",
       "encode": {"symbols": {"stroke": {"value": "#000000"}, "strokeWidth": {"value": 1}, "fill": {"value": {"expr": "datum.value === 'Modelo de Gompertz' ? 'transparent' : '#808080'"}}, "strokeDash": {"value": {"expr": "datum.value === 'Modelo de Gompertz' ? [1.5, 1.5] : [1, 0]"}}}}}}}},
   {"data": {"name": "modelo"}, "transform": [{"filter": "datum.panel === 'D9'"}], "mark": {"type": "line", "color": "#000000", "strokeWidth": 1, "strokeDash": [2, 2], "interpolate": "monotone"},
    "encoding": {"x": {"field": "dia", "type": "quantitative"}, "y": {"field": "metano", "type": "quantitative"}, "detail": {"field": "serie", "type": "nominal"}}}
  ]},
 {"width": 311, "height": 229,
  "layer": [
   {"data": {"name": "obs"}, "transform": [{"filter": "datum.panel === 'G3'"}], "mark": {"type": "point", "filled": true, "fill": "#808080", "stroke": "#000000", "strokeWidth": 1, "opacity": 1, "size": 200},
    "encoding": {"x": {"field": "dia", "type": "quantitative", "scale": {"domain": [0, 25], "nice": false}, "axis": {"values": [0,5,10,15,20,25], "title": null}}, "y": {"field": "metano", "type": "quantitative", "scale": {"domain": [0, 330], "nice": false}, "axis": {"values": [0,60,120,180,240,300], "title": null}},
     "shape": {"field": "serie", "type": "nominal", "scale": {"domain": ["Fracción sólida","Efluente crudo","Fracción líquida","Modelo de Gompertz"], "range": ["diamond","circle","triangle-up","M-2,0H2"]},
      "legend": {"title": null, "orient": "none", "legendX": 63, "legendY": -101, "direction": "horizontal", "columns": 4, "columnPadding": 70, "gridAlign": "none", "symbolSize": 110, "labelFont": "Open Sans", "labelFontSize": 19, "labelColor": "#000000", "labelOffset": 8, "labelLimit": 300, "padding": 12, "strokeColor": "#000000",
       "encode": {"symbols": {"stroke": {"value": "#000000"}, "strokeWidth": {"value": 1}, "fill": {"value": {"expr": "datum.value === 'Modelo de Gompertz' ? 'transparent' : '#808080'"}}, "strokeDash": {"value": {"expr": "datum.value === 'Modelo de Gompertz' ? [1.5, 1.5] : [1, 0]"}}}}}}}},
   {"data": {"name": "modelo"}, "transform": [{"filter": "datum.panel === 'G3'"}], "mark": {"type": "line", "color": "#000000", "strokeWidth": 1, "strokeDash": [2, 2], "interpolate": "monotone"},
    "encoding": {"x": {"field": "dia", "type": "quantitative"}, "y": {"field": "metano", "type": "quantitative"}, "detail": {"field": "serie", "type": "nominal"}}},
   {"data": {"values": [{"etiqueta": "LODO GRANULAR"}]}, "mark": {"type": "text", "align": "left", "baseline": "middle", "fontWeight": "bold", "fontSize": 17, "font": "Open Sans", "color": "#000000"},
    "encoding": {"x": {"datum": 0.8, "type": "quantitative"}, "y": {"datum": 300, "type": "quantitative"}, "text": {"field": "etiqueta"}}}
  ]},
 {"width": 311, "height": 229,
  "layer": [
   {"data": {"name": "obs"}, "transform": [{"filter": "datum.panel === 'G6'"}], "mark": {"type": "point", "filled": true, "fill": "#808080", "stroke": "#000000", "strokeWidth": 1, "opacity": 1, "size": 200},
    "encoding": {"x": {"field": "dia", "type": "quantitative", "scale": {"domain": [0, 27], "nice": false}, "axis": {"values": [0,5,10,15,20,25], "title": null}}, "y": {"field": "metano", "type": "quantitative", "scale": {"domain": [0, 330], "nice": false}, "axis": {"values": [0,60,120,180,240,300], "title": null}},
     "shape": {"field": "serie", "type": "nominal", "scale": {"domain": ["Fracción sólida","Efluente crudo","Fracción líquida","Modelo de Gompertz"], "range": ["diamond","circle","triangle-up","M-2,0H2"]},
      "legend": {"title": null, "orient": "none", "legendX": 63, "legendY": -101, "direction": "horizontal", "columns": 4, "columnPadding": 70, "gridAlign": "none", "symbolSize": 110, "labelFont": "Open Sans", "labelFontSize": 19, "labelColor": "#000000", "labelOffset": 8, "labelLimit": 300, "padding": 12, "strokeColor": "#000000",
       "encode": {"symbols": {"stroke": {"value": "#000000"}, "strokeWidth": {"value": 1}, "fill": {"value": {"expr": "datum.value === 'Modelo de Gompertz' ? 'transparent' : '#808080'"}}, "strokeDash": {"value": {"expr": "datum.value === 'Modelo de Gompertz' ? [1.5, 1.5] : [1, 0]"}}}}}}}},
   {"data": {"name": "modelo"}, "transform": [{"filter": "datum.panel === 'G6'"}], "mark": {"type": "line", "color": "#000000", "strokeWidth": 1, "strokeDash": [2, 2], "interpolate": "monotone"},
    "encoding": {"x": {"field": "dia", "type": "quantitative"}, "y": {"field": "metano", "type": "quantitative"}, "detail": {"field": "serie", "type": "nominal"}}}
  ]},
 {"width": 311, "height": 229,
  "layer": [
   {"data": {"name": "obs"}, "transform": [{"filter": "datum.panel === 'G9'"}], "mark": {"type": "point", "filled": true, "fill": "#808080", "stroke": "#000000", "strokeWidth": 1, "opacity": 1, "size": 200},
    "encoding": {"x": {"field": "dia", "type": "quantitative", "scale": {"domain": [0, 27], "nice": false}, "axis": {"values": [0,5,10,15,20,25], "title": null}}, "y": {"field": "metano", "type": "quantitative", "scale": {"domain": [0, 330], "nice": false}, "axis": {"values": [0,60,120,180,240,300], "title": null}},
     "shape": {"field": "serie", "type": "nominal", "scale": {"domain": ["Fracción sólida","Efluente crudo","Fracción líquida","Modelo de Gompertz"], "range": ["diamond","circle","triangle-up","M-2,0H2"]},
      "legend": {"title": null, "orient": "none", "legendX": 63, "legendY": -101, "direction": "horizontal", "columns": 4, "columnPadding": 70, "gridAlign": "none", "symbolSize": 110, "labelFont": "Open Sans", "labelFontSize": 19, "labelColor": "#000000", "labelOffset": 8, "labelLimit": 300, "padding": 12, "strokeColor": "#000000",
       "encode": {"symbols": {"stroke": {"value": "#000000"}, "strokeWidth": {"value": 1}, "fill": {"value": {"expr": "datum.value === 'Modelo de Gompertz' ? 'transparent' : '#808080'"}}, "strokeDash": {"value": {"expr": "datum.value === 'Modelo de Gompertz' ? [1.5, 1.5] : [1, 0]"}}}}}}}},
   {"data": {"name": "modelo"}, "transform": [{"filter": "datum.panel === 'G9'"}], "mark": {"type": "line", "color": "#000000", "strokeWidth": 1, "strokeDash": [2, 2], "interpolate": "monotone"},
    "encoding": {"x": {"field": "dia", "type": "quantitative"}, "y": {"field": "metano", "type": "quantitative"}, "detail": {"field": "serie", "type": "nominal"}}}
  ]}
 ]}
],
"config": {
 "font": "Open Sans",
 "view": {"stroke": "#000000", "strokeWidth": 1},
 "axis": {"grid": false, "domainColor": "#000000", "domainWidth": 1, "tickColor": "#000000", "tickWidth": 1, "labelColor": "#000000", "labelFont": "Open Sans", "labelFontSize": 12, "labelFlush": false, "labelOverlap": false},
 "axisX": {"tickSize": -4, "labelPadding": 14},
 "axisY": {"tickSize": 4, "labelPadding": 9},
 "legend": {"strokeDash": [1.5, 1.5]},
 "title": {"font": "Open Sans", "fontWeight": "normal", "color": "#000000", "fontSize": 19}
}
}
